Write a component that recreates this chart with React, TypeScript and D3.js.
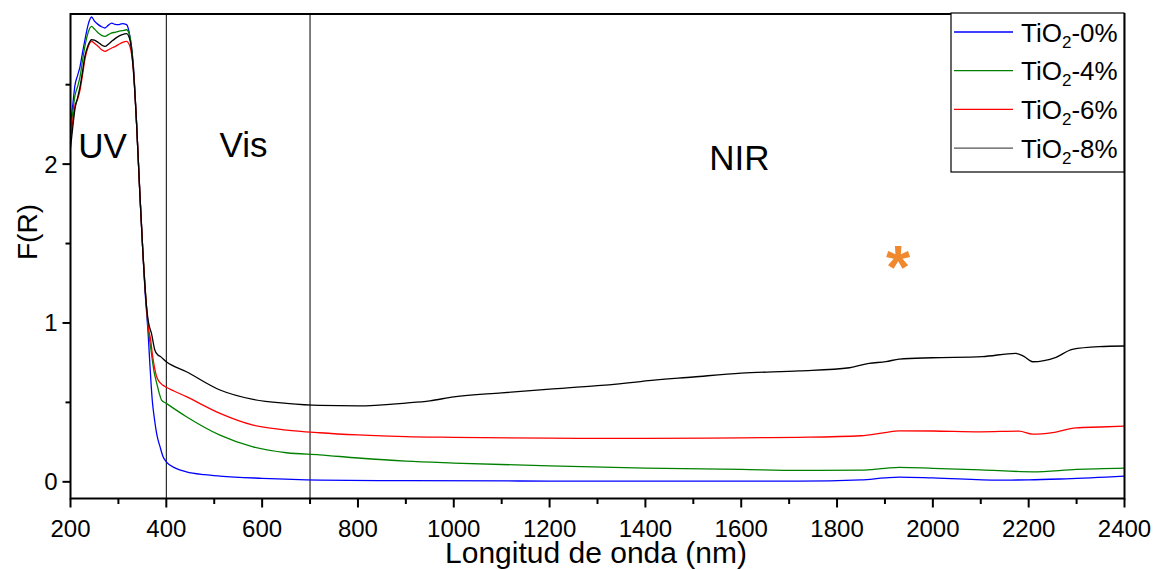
import React from "react";
import * as d3 from "d3";

const W = 1155;
const H = 570;
const FONT = "'Liberation Sans', Arial, sans-serif";

// ---- data ----
const wl0 = [200, 205, 209, 215, 220, 225, 230, 237, 244, 250, 258, 265, 272, 279, 286, 293, 300, 308, 317, 324, 331, 338, 345, 351, 355, 362, 366, 370.6, 375, 380, 387, 393, 400, 420, 442, 480, 512, 600, 720, 900, 1200, 1600, 1720, 1850, 1900, 1930, 2000, 2139, 2200, 2278, 2400];
const f0 = [2.25, 2.38, 2.49, 2.56, 2.615, 2.7, 2.78, 2.88, 2.926, 2.9, 2.878, 2.865, 2.857, 2.875, 2.888, 2.88, 2.878, 2.885, 2.878, 2.804, 2.63, 2.25, 1.8, 1.45, 1.23, 0.935, 0.725, 0.515, 0.4, 0.3, 0.22, 0.16, 0.126, 0.085, 0.063, 0.045, 0.036, 0.022, 0.011, 0.007, 0.005, 0.004, 0.004, 0.012, 0.025, 0.03, 0.025, 0.011, 0.012, 0.019, 0.036];

const wl4 = [200, 205, 209, 215, 220, 225, 230, 237, 244, 250, 258, 265, 272, 279, 286, 293, 300, 308, 317, 324, 331, 338, 345, 351, 357.5, 364, 368, 374, 380, 385, 390, 400, 442, 512, 581, 651, 720, 800, 900, 1000, 1200, 1400, 1600, 1720, 1850, 1900, 1930, 2000, 2100, 2208, 2300, 2400];
const f4 = [2.2, 2.33, 2.426, 2.49, 2.552, 2.65, 2.741, 2.83, 2.867, 2.85, 2.826, 2.81, 2.804, 2.815, 2.826, 2.83, 2.836, 2.84, 2.846, 2.804, 2.62, 2.25, 1.8, 1.45, 1.145, 0.92, 0.83, 0.7, 0.62, 0.56, 0.515, 0.494, 0.41, 0.294, 0.22, 0.183, 0.17, 0.15, 0.13, 0.118, 0.1, 0.086, 0.078, 0.072, 0.074, 0.085, 0.091, 0.085, 0.075, 0.063, 0.078, 0.086];

const wl6 = [200, 205, 209, 215, 220, 225, 230, 237, 244, 250, 258, 265, 272, 279, 286, 293, 300, 308, 317, 324, 331, 338, 345, 351, 357.5, 363, 367, 371, 375, 379, 383, 390, 397, 400, 442, 512, 581, 651, 720, 800, 900, 1000, 1200, 1400, 1600, 1720, 1850, 1900, 1930, 2000, 2100, 2180, 2208, 2250, 2299, 2350, 2400];
const f6 = [2.15, 2.28, 2.363, 2.41, 2.468, 2.56, 2.657, 2.74, 2.773, 2.76, 2.741, 2.72, 2.71, 2.72, 2.731, 2.74, 2.752, 2.765, 2.773, 2.741, 2.6, 2.25, 1.8, 1.45, 1.145, 0.96, 0.9, 0.8, 0.725, 0.67, 0.64, 0.615, 0.6, 0.595, 0.536, 0.431, 0.357, 0.326, 0.309, 0.295, 0.284, 0.28, 0.275, 0.273, 0.277, 0.28, 0.29, 0.31, 0.321, 0.32, 0.315, 0.319, 0.3, 0.31, 0.34, 0.345, 0.351];

const wl8 = [200, 205, 209, 215, 220, 225, 230, 237, 244, 250, 258, 265, 272, 279, 286, 293, 300, 308, 317, 324, 331, 338, 345, 351, 357.5, 363, 369, 376, 382, 387, 400, 442, 512, 581, 651, 720, 800, 900, 950, 1000, 1100, 1200, 1300, 1380, 1400, 1500, 1600, 1721, 1826, 1867, 1902, 1930, 1999, 2103, 2173, 2190, 2208, 2257, 2291, 2347, 2400];
const f8 = [2.1, 2.24, 2.342, 2.42, 2.49, 2.58, 2.678, 2.75, 2.783, 2.78, 2.766, 2.75, 2.741, 2.755, 2.773, 2.79, 2.804, 2.815, 2.821, 2.783, 2.6, 2.25, 1.8, 1.45, 1.145, 1.0, 0.935, 0.83, 0.8, 0.79, 0.756, 0.693, 0.578, 0.519, 0.494, 0.481, 0.478, 0.496, 0.51, 0.535, 0.56, 0.583, 0.605, 0.628, 0.635, 0.66, 0.684, 0.698, 0.718, 0.746, 0.756, 0.773, 0.781, 0.788, 0.809, 0.79, 0.756, 0.784, 0.834, 0.851, 0.855];

const seriesNames = ["TiO₂-0%", "TiO₂-4%", "TiO₂-6%", "TiO₂-8%"];
const seriesColors = ["#0000ff", "#008000", "#ff0000", "#000000"];
const legendColors = ["#0000ff", "#008000", "#ff0000", "#555555"];
const seriesWl = [wl0, wl4, wl6, wl8];
const seriesF = [f0, f4, f6, f8];

const xMajorTicks = [200, 400, 600, 800, 1000, 1200, 1400, 1600, 1800, 2000, 2200, 2400];
const xMinorTicks = [300, 500, 700, 900, 1100, 1300, 1500, 1700, 1900, 2100, 2300];
const yMajorTicks = [0, 1, 2];
const yMinorTicks = [0.5, 1.5, 2.5];
const regionLines = [400, 700];
const regionLabels = [
  { text: "UV", wl: 267, f: 2.04 },
  { text: "Vis", wl: 561, f: 2.046 },
  { text: "NIR", wl: 1596, f: 1.964 },
];

// ---- layout ----
const left = 70.5;
const right = 1124.5;
const top = 14;
const bottom = 498.5;

export default function App() {
  const x = d3.scaleLinear().domain([200, 2400]).range([left, right]);
  const y = d3.scaleLinear().domain([-0.105, 2.945]).range([bottom, top]);

  const line = d3
    .line<[number, number]>()
    .x((d) => x(d[0]))
    .y((d) => y(d[1]))
    .curve(d3.curveMonotoneX);

  const legendX = 951;
  const legendY = 13;
  const legendW = 173;
  const legendH = 159;
  const rowH = 38.7;

  return (
    <svg
      width={W}
      height={H}
      style={{ position: "fixed", left: 0, top: 0, background: "#fff" }}
      fontFamily={FONT}
    >
      <rect x={0} y={0} width={W} height={H} fill="#fff" />
      <defs>
        <clipPath id="plotclip">
          <rect x={left} y={top} width={right - left} height={bottom - top} />
        </clipPath>
      </defs>

      {/* region lines */}
      {regionLines.map((v) => (
        <line key={v} x1={x(v)} x2={x(v)} y1={top} y2={bottom} stroke="#000" strokeWidth={1} />
      ))}

      {/* series */}
      <g clipPath="url(#plotclip)">
        {seriesWl.map((wl, i) => {
          const pts = wl.map((w, j) => [w, seriesF[i][j]] as [number, number]);
          return (
            <path
              key={i}
              d={line(pts) || ""}
              fill="none"
              stroke={seriesColors[i]}
              strokeWidth={1.3}
            />
          );
        })}
      </g>

      {/* region labels */}
      {regionLabels.map((r) => (
        <text key={r.text} x={x(r.wl)} y={y(r.f)} fontSize={35} textAnchor="middle" fill="#000">
          {r.text}
        </text>
      ))}

      {/* asterisk */}
      <text x={898} y={288} fontSize={62} fontWeight="bold" textAnchor="middle" fill="#f0882f">
        *
      </text>

      {/* frame */}
      <rect x={left} y={top} width={right - left} height={bottom - top} fill="none" stroke="#000" strokeWidth={2} />

      {/* x ticks */}
      {xMajorTicks.map((t) => (
        <g key={t}>
          <line x1={x(t)} x2={x(t)} y1={bottom} y2={bottom + 9} stroke="#000" strokeWidth={2} />
          <text x={x(t)} y={537} fontSize={24} textAnchor="middle" fill="#000">
            {t}
          </text>
        </g>
      ))}
      {xMinorTicks.map((t) => (
        <line key={t} x1={x(t)} x2={x(t)} y1={bottom} y2={bottom + 5.5} stroke="#000" strokeWidth={2} />
      ))}

      {/* y ticks */}
      {yMajorTicks.map((t) => (
        <g key={t}>
          <line x1={left - 8} x2={left} y1={y(t)} y2={y(t)} stroke="#000" strokeWidth={2} />
          <text x={left - 13} y={y(t) + 8.5} fontSize={24} textAnchor="end" fill="#000">
            {t}
          </text>
        </g>
      ))}
      {yMinorTicks.map((t) => (
        <line key={t} x1={left - 5} x2={left} y1={y(t)} y2={y(t)} stroke="#000" strokeWidth={2} />
      ))}

      {/* axis titles */}
      <text x={596} y={563} fontSize={30} textAnchor="middle" fill="#000">
        Longitud de onda (nm)
      </text>
      <text
        transform={`translate(37, ${232}) rotate(-90)`}
        fontSize={28}
        textAnchor="middle"
        fill="#000"
      >
        F(R)
      </text>

      {/* legend */}
      <rect x={legendX} y={legendY} width={legendW} height={legendH} fill="#fff" stroke="#000" strokeWidth={1.2} />
      {seriesNames.map((name, i) => {
        const cy = legendY + 19 + i * rowH;
        return (
          <g key={name}>
            <line x1={954} x2={1013} y1={cy} y2={cy} stroke={legendColors[i]} strokeWidth={1.3} />
            <text x={1021} y={cy + 9.5} fontSize={26} fill="#000">
              <tspan>TiO</tspan>
              <tspan fontSize={17} dy={6}>2</tspan>
              <tspan dy={-6}>{name.slice(4)}</tspan>
            </text>
          </g>
        );
      })}
    </svg>
  );
}
